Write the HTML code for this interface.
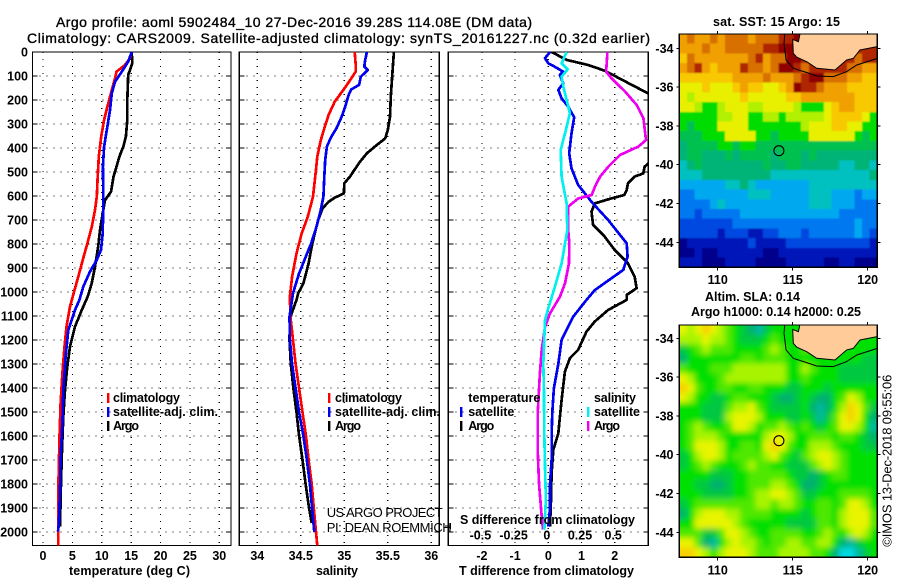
<!DOCTYPE html>
<html lang="en">
<head>
<meta charset="utf-8">
<title>Argo profile 5902484_10</title>
<style>
html,body{margin:0;padding:0;background:#fff;}
svg{display:block;}
text{font-family:"Liberation Sans",sans-serif;fill:#000;}
.b{font-size:12.5px;font-weight:bold;}
.t{font-size:14px;stroke:#000;stroke-width:.35px;}
.r{font-size:13px;}
</style>
</head>
<body>
<svg id="chart" xmlns="http://www.w3.org/2000/svg" width="900" height="580" viewBox="0 0 900 580">
  <rect x="0" y="0" width="900" height="580" fill="#fff"/>
  <defs>
    <clipPath id="clipA"><rect x="32.5" y="52" width="198.5" height="493.6"/></clipPath>
    <clipPath id="clipB"><rect x="239.3" y="52" width="200" height="493.6"/></clipPath>
    <clipPath id="clipC"><rect x="448.3" y="52" width="200" height="493.6"/></clipPath>
    <clipPath id="clipM1"><rect x="679.3" y="34" width="198" height="233.3"/></clipPath>
    <clipPath id="clipM2"><rect x="679.3" y="325" width="198" height="232.3"/></clipPath>
    <filter id="softSst" x="-10%" y="-10%" width="120%" height="120%"><feGaussianBlur stdDeviation="0.8"/></filter>
    <filter id="softSla" x="-10%" y="-10%" width="120%" height="120%"><feGaussianBlur stdDeviation="3"/></filter>
  </defs>

  <text class="t" x="56" y="27" textLength="476" lengthAdjust="spacing">Argo profile: aoml 5902484_10 27-Dec-2016 39.28S 114.08E (DM data)</text>
  <text class="t" x="27" y="43" textLength="623" lengthAdjust="spacing">Climatology: CARS2009. Satellite-adjusted climatology: synTS_20161227.nc (0.32d earlier)</text>

  <g id="layer-maps"></g>
  <g id="layer-panels"></g>

  <text class="b" x="69" y="575" textLength="121" lengthAdjust="spacing">temperature (deg C)</text>
  <text class="b" x="316" y="575" textLength="42" lengthAdjust="spacing">salinity</text>
  <text class="b" x="459" y="575" textLength="175" lengthAdjust="spacing">T difference from climatology</text>
  <text class="b" x="460" y="524" textLength="175" lengthAdjust="spacing">S difference from climatology</text>

  <g>
    <rect x="107" y="393" width="2.4" height="10" fill="#f00"/>
    <text class="b" x="113" y="402" textLength="67" lengthAdjust="spacing">climatology</text>
    <rect x="107" y="407" width="2.4" height="10" fill="#0000f0"/>
    <text class="b" x="113" y="416" textLength="105" lengthAdjust="spacing">satellite-adj. clim.</text>
    <rect x="107" y="421" width="2.4" height="10" fill="#000"/>
    <text class="b" x="113" y="430" textLength="26" lengthAdjust="spacing">Argo</text>
  </g>
  <g>
    <rect x="328" y="393" width="2.4" height="10" fill="#f00"/>
    <text class="b" x="335" y="402" textLength="67" lengthAdjust="spacing">climatology</text>
    <rect x="328" y="407" width="2.4" height="10" fill="#0000f0"/>
    <text class="b" x="335" y="416" textLength="105" lengthAdjust="spacing">satellite-adj. clim.</text>
    <rect x="328" y="421" width="2.4" height="10" fill="#000"/>
    <text class="b" x="335" y="430" textLength="26" lengthAdjust="spacing">Argo</text>
  </g>
  <g>
    <text class="b" x="468.3" y="402" textLength="72" lengthAdjust="spacing">temperature</text>
    <rect x="460" y="407" width="2.4" height="10" fill="#0000f0"/>
    <text class="b" x="468.3" y="416" textLength="46" lengthAdjust="spacing">satellite</text>
    <rect x="460" y="421" width="2.4" height="10" fill="#000"/>
    <text class="b" x="468.3" y="430" textLength="26" lengthAdjust="spacing">Argo</text>
    <text class="b" x="594" y="402" textLength="42" lengthAdjust="spacing">salinity</text>
    <rect x="587" y="407" width="2.4" height="10" fill="#00f0f0"/>
    <text class="b" x="594" y="416" textLength="46" lengthAdjust="spacing">satellite</text>
    <rect x="587" y="421" width="2.4" height="10" fill="#f000f0"/>
    <text class="b" x="594" y="430" textLength="26" lengthAdjust="spacing">Argo</text>
  </g>
  <path d="M445 526H451M450.5 523V529" stroke="#000" stroke-width="1" fill="none" shape-rendering="crispEdges"/>

  <text class="r" x="326.7" y="517" textLength="116" lengthAdjust="spacing">US ARGO PROJECT</text>
  <text class="r" x="326.7" y="532" textLength="125" lengthAdjust="spacing">PI: DEAN ROEMMICH</text>

  <text class="b" x="713" y="26" textLength="127" lengthAdjust="spacing">sat. SST: 15 Argo: 15</text>
  <text class="b" x="705" y="301" textLength="95" lengthAdjust="spacing">Altim. SLA: 0.14</text>
  <text class="b" x="691" y="316" textLength="170" lengthAdjust="spacing">Argo h1000: 0.14 h2000: 0.25</text>
  <text class="r" transform="translate(891.5,546.7) rotate(-90)" x="0" y="0" textLength="172" lengthAdjust="spacing">©IMOS 13-Dec-2018 09:55:06</text>
</svg>

<script>
/* ---------- axis tick values ---------- */
const depthTicks = [0,100,200,300,400,500,600,700,800,900,1000,1100,1200,1300,1400,1500,1600,1700,1800,1900,2000];
const tempTicks = [0,5,10,15,20,25,30];
const salTicks = [34,34.5,35,35.5,36];
const tDiffTicks = [-2,-1,0,1,2];
const sDiffTicks = [-0.5,-0.25,0,0.25,0.5];
const lonTicks = [110,115,120];
const latTicks = [-34,-36,-38,-40,-42,-44];

/* ---------- temperature profiles (deg C) ---------- */
const tClimDepth = [0,26,54,82,110,158,228,283,353,436,519,603,658,728,797,867,936,1006,1061,1144,1228,1339,1464,1603,1769,1894,2056];
const tClimValue = [15.1,14.8,13.95,12.5,12.25,11.7,10.95,10.4,9.9,9.5,9.3,9.15,8.85,8.3,7.55,6.75,6.0,5.2,4.6,4.0,3.65,3.3,3.0,2.8,2.65,2.6,2.6];
const tSatDepth = [0,40,82,124,172,242,325,394,478,617,756,825,867,915,978,1033,1075,1158,1269,1408,1547,1686,1825,1964,1998];
const tSatValue = [15.1,14.5,13.4,12.25,11.7,11.4,10.85,10.4,10.2,10.27,10.15,9.87,9.13,8.0,6.86,6.2,5.45,4.3,3.85,3.46,3.3,3.0,2.9,2.7,2.55];
const tArgoDepth = [0,47,96,200,283,353,394,436,478,519,582,617,672,742,811,894,964,1019,1075,1144,1228,1311,1408,1519,1658,1797,1978];
const tArgoValue = [15.1,15.2,14.5,14.35,14.35,14.1,13.67,13.0,12.5,12.0,11.57,10.55,10.15,9.7,9.4,8.85,8.28,7.6,6.6,5.45,4.6,4.14,3.74,3.46,3.23,3.06,2.9];

/* ---------- salinity profiles ---------- */
const sClimDepth = [0,47,82,110,158,207,262,318,367,436,506,603,686,756,839,936,1019,1103,1200,1300,1401,1501,1600,1700,1800,1901,2001,2056];
const sClimValue = [35.12,35.13,35.13,35.08,34.99,34.89,34.82,34.77,34.73,34.69,34.67,34.64,34.58,34.51,34.45,34.40,34.375,34.38,34.41,34.44,34.48,34.52,34.56,34.59,34.625,34.65,34.675,34.69];
const sSatDepth = [0,33,61,75,103,137,156,179,228,269,318,353,394,450,519,603,658,728,797,860,922,1005,1103,1200,1300,1401,1501,1600,1700,1800,1901,2001];
const sSatValue = [35.26,35.24,35.23,35.27,35.19,35.17,35.08,35.05,35.01,34.97,34.91,34.85,34.80,34.78,34.77,34.76,34.73,34.68,34.62,34.55,34.48,34.41,34.37,34.375,34.40,34.44,34.48,34.53,34.57,34.605,34.63,34.655];
const sArgoDepth = [0,75,186,269,325,360,394,422,457,492,519,547,589,607,624,651,700,756,811,881,964,1005,1033,1089,1117,1200,1300,1401,1501,1600,1700,1800,1901,1963];
const sArgoValue = [35.57,35.555,35.535,35.525,35.50,35.47,35.35,35.26,35.18,35.115,35.065,35.0,34.995,34.89,34.82,34.75,34.70,34.66,34.625,34.59,34.53,34.47,34.45,34.395,34.375,34.37,34.385,34.415,34.45,34.48,34.52,34.555,34.595,34.625];

/* ---------- differences from climatology ---------- */
const dtSatDepth = [0,26,47,58,82,96,131,158,193,228,272,339,422,485,554,624,700,797,853,908,943,992,1033,1103,1200,1300,1401,1501,1600,1700,1800,1901,1978];
const dtSatValue = [0.05,-0.1,0,0.15,0.45,0.35,0.45,0.3,0.4,0.6,0.78,0.7,0.63,0.7,0.9,1.3,1.8,2.36,2.39,2.26,1.9,1.4,1.15,0.75,0.4,0.3,0.17,0.12,0.1,0.1,0.05,0.05,0];
const dtArgoDepth = [0,33,54,78,172,300,420,478,506,519,547,575,596,610,631,665,721,769,825,881,936,984,1012,1033,1075,1123,1165,1241,1276,1332,1450,1589,1658,1755,1866,1978];
const dtArgoValue = [0.1,0.55,1.2,1.7,3.0,3.9,3.4,2.9,2.86,2.6,2.4,2.36,2.29,1.9,1.4,1.3,1.35,1.7,2.0,2.4,2.6,2.66,2.36,2.36,1.8,1.4,1.15,0.9,0.65,0.5,0.4,0.3,0.15,0.1,0.08,0.05];
const dsSatDepth = [0,47,72,103,144,256,339,408,519,631,742,881,978,1068,1117,1300,1401,1589,1728,1866,1991];
const dsSatValue = [0.138,0.10,0.146,0.10,0.113,0.163,0.126,0.093,0.10,0.138,0.143,0.10,0.05,0,-0.025,-0.038,-0.033,-0.03,-0.025,-0.018,-0.03];
const dsArgoDepth = [0,47,82,110,165,221,276,367,394,429,478,519,561,596,610,644,742,797,881,964,1019,1089,1145,1241,1339,1506,1658,1797,1936,1990];
const dsArgoValue = [0.445,0.44,0.435,0.477,0.578,0.666,0.716,0.736,0.678,0.54,0.452,0.39,0.352,0.327,0.226,0.15,0.15,0.158,0.156,0.126,0.088,0.0126,-0.025,-0.05,-0.063,-0.08,-0.08,-0.07,-0.05,-0.04];

/* ---------- map data: colour-level rows, north to south ---------- */
const sstLevels = ["#00008c","#0018b8","#0048e0","#0078f0","#00a8f0","#00c0c0","#00b478","#00c050","#00dc00","#b0f000","#e8f000","#f8c800","#f0a000","#d87000","#b02800","#900000"];
const sstRows = [
"cdccdcdddcdddeefdeeeeeeeee",
"cccdccdddddeeffeeeeeeeeeee",
"bdcccccccdecddffeeeeeeedee",
"cdecbccceddcdffedeeeeeddcc",
"bbbbbbbccccdcccdeffdddccbb",
"aaabaaabcbbaabcfeedcccbbbb",
"a9aaaaaabaaaaabbcccccccbbb",
"aa9889aaa99aaaa9888abccbbb",
"8888899aa8899899999abbbba8",
"87888aaaa88888889aaabbaa88",
"777888aaaa8878888aaaaaa878",
"67777887887777777777777777",
"67766676777767776766666666",
"56766666666766776666655665",
"55566666666655555555555556",
"44444455654444444555555555",
"33444444455544444555444344",
"33334544444444444555444333",
"33233333444444444444433333",
"22222223333333333333333433",
"22222122211223332333333432",
"01111111121111222222222221",
"00100111111001111111111111",
"11100011110000111110011000"
];
const slaLevels = ["#00d8e0","#00b8a0","#00b070","#00c840","#00e000","#50e800","#a8f400","#e8f400","#f8d000","#f8a000"];
const slaRows = [
"76787654321344444444444444",
"66676654333454444444444444",
"34565554444565445444444444",
"24444444554555444444444433",
"54445556666666446544433333",
"76444566666666445444433333",
"87544554455444334443444444",
"76443345544432234322457644",
"44433356675433334212468753",
"44433367776444334313578742",
"45654457764556545434577641",
"45666544444677644555455432",
"45777644554787544666544433",
"34677645555675435677654444",
"34565444565544333567654444",
"44443334455555433234554444",
"44332234455566542234444444",
"44433334456677653344455554",
"34555555556656654455457764",
"24677766555544443455467775",
"44777776544444333355467775",
"55533577654455554456546764",
"77521467665455665566421344",
"88764677765556666554200134"
];
const coastLon = [115.49,115.38,115.0,115.04,115.27,115.93,116.6,117.82,118.6,119.04,119.49,120.64,120.64];
const coastLat = [-33.26,-33.66,-33.54,-34.26,-34.46,-34.69,-35.03,-35.12,-34.6,-34.52,-34.09,-33.91,-33.26];
const shelfLon = [114.47,114.42,114.56,115.04,115.93,116.6,117.71,118.6,119.27,120.64];
const shelfLat = [-33.26,-33.74,-34.6,-35.03,-35.25,-35.43,-35.46,-35.2,-34.86,-34.52];
const floatLon = [114.08];
const floatLat = [-39.28];

/* ---------- axis functions ---------- */
const depthY = d => 52 + 0.24 * d;
const tempX = v => 43 + 5.877 * v;
const salX = v => 257.3 + 87 * (v - 34);
const tDiffX = v => 548.3 + 33.2 * v;
const sDiffX = v => 548.3 + 132.8 * v;
const lonX = v => 717.7 + 15 * (v - 110);

const NS = "http://www.w3.org/2000/svg";
function mk(tag, attrs, parent) {
  const e = document.createElementNS(NS, tag);
  for (const k in attrs) e.setAttribute(k, attrs[k]);
  parent.appendChild(e);
  return e;
}

function drawFrame(parent, x0, x1, y0, y1) {
  const f = mk('rect', {x:x0, y:y0, width:x1-x0, height:y1-y0, fill:'none', stroke:'#000', 'stroke-width':1.2, 'shape-rendering':'crispEdges'}, parent);
  
  
}

function drawPanel(x0, x1, xTicks, xFn, showDepthLabels) {
  const g = mk('g', {}, document.getElementById('layer-panels'));
  
  
  const top = 52, bottom = 545.6;
  xTicks.forEach(v => {
    const x = xFn(v);
    const grid = mk('line', {x1:x, x2:x, y1:top, y2:bottom, stroke:'#000', 'stroke-width':1.2, 'stroke-dasharray':'1.2 5.8', 'shape-rendering':'crispEdges'}, g);
    
    
    const lab = mk('text', {x:x, y:560.2, 'text-anchor':'middle', class:'b'}, g);
    
    
    lab.textContent = String(v);
  });
  depthTicks.forEach(d => {
    const y = depthY(d);
    const grid = mk('line', {x1:x0, x2:x1, y1:y, y2:y, stroke:'#000', 'stroke-width':1.2, 'stroke-dasharray':'1.2 5.8', 'shape-rendering':'crispEdges'}, g);
    
    
    const tl = mk('line', {x1:x0, x2:x0+5, y1:y, y2:y, stroke:'#000', 'stroke-width':1, 'shape-rendering':'crispEdges'}, g);
    
    
    const tr = mk('line', {x1:x1-5, x2:x1, y1:y, y2:y, stroke:'#000', 'stroke-width':1, 'shape-rendering':'crispEdges'}, g);
    
    
    if (showDepthLabels) {
      const lab = mk('text', {x:28, y:y+4.5, 'text-anchor':'end', class:'b'}, g);
      
      
      lab.textContent = String(d);
    }
  });
  drawFrame(g, x0, x1, top, bottom);
  return g;
}

function drawProfile(parent, clip, xFn, depths, values, color) {
  const pts = depths.map((d, i) => xFn(values[i]).toFixed(1) + ',' + depthY(d).toFixed(1)).join(' ');
  return mk('polyline', {points:pts, fill:'none', stroke:color, 'stroke-width':2.7, 'stroke-linejoin':'round', 'shape-rendering':'crispEdges', 'clip-path':'url(#' + clip + ')'}, parent);
}

/* temperature panel */
const panelA = drawPanel(32.5, 231, tempTicks, tempX, true);
const lineA3 = drawProfile(panelA, 'clipA', tempX, tArgoDepth, tArgoValue, '#000');


const lineA1 = drawProfile(panelA, 'clipA', tempX, tClimDepth, tClimValue, '#f00');


const lineA2 = drawProfile(panelA, 'clipA', tempX, tSatDepth, tSatValue, '#0000f0');



/* salinity panel */
const panelB = drawPanel(239.3, 439.3, salTicks, salX, false);
const lineB3 = drawProfile(panelB, 'clipB', salX, sArgoDepth, sArgoValue, '#000');


const lineB1 = drawProfile(panelB, 'clipB', salX, sClimDepth, sClimValue, '#f00');


const lineB2 = drawProfile(panelB, 'clipB', salX, sSatDepth, sSatValue, '#0000f0');



/* difference panel */
const panelC = drawPanel(448.3, 648.3, tDiffTicks, tDiffX, false);
const lineC2 = drawProfile(panelC, 'clipC', tDiffX, dtArgoDepth, dtArgoValue, '#000');


const lineC1 = drawProfile(panelC, 'clipC', tDiffX, dtSatDepth, dtSatValue, '#0000f0');


const lineC4 = drawProfile(panelC, 'clipC', sDiffX, dsArgoDepth, dsArgoValue, '#f000f0');


const lineC3 = drawProfile(panelC, 'clipC', sDiffX, dsSatDepth, dsSatValue, '#00f0f0');


sDiffTicks.forEach(v => {
  const lab = mk('text', {x:sDiffX(v)-1.5, y:539.5, 'text-anchor':'middle', class:'b'}, panelC);
  
  
  lab.textContent = String(v);
});

/* maps */
function drawMap(rows, levels, top, bottom, latZero, clip, labelY, softFilter) {
  const g = mk('g', {}, document.getElementById('layer-maps'));
  
  
  const left = 679.3, right = 877.3;
  const latY = v => latZero + 19.4 * (-34 - v);
  const cw = (right - left) / rows[0].length;
  const ch = (bottom - top) / rows.length;
  const clipped = mk('g', {'clip-path':'url(#' + clip + ')'}, g);
  
  
  const field = mk('g', {filter:'url(#' + softFilter + ')'}, clipped);
  
  
  const bleed = 14;
  rows.forEach((row, r) => {
    row.split('').forEach((c, i) => {
      const xa = left + i * cw - (i === 0 ? bleed : 0);
      const xb = left + (i + 1) * cw + (i === row.length - 1 ? bleed : 0.6);
      const ya = top + r * ch - (r === 0 ? bleed : 0);
      const yb = top + (r + 1) * ch + (r === rows.length - 1 ? bleed : 0.6);
      const cell = mk('rect', {x:xa.toFixed(2), y:ya.toFixed(2), width:(xb - xa).toFixed(2), height:(yb - ya).toFixed(2), fill:levels[parseInt(c, 16)], 'shape-rendering':'crispEdges'}, field);
      
      
    });
  });
  const land = mk('polygon', {points:coastLon.map((v, i) => lonX(v).toFixed(1) + ',' + latY(coastLat[i]).toFixed(1)).join(' '), fill:'#ffcc99', stroke:'#000', 'stroke-width':1, 'clip-path':'url(#' + clip + ')'}, g);
  
  
  const shelf = mk('polyline', {points:shelfLon.map((v, i) => lonX(v).toFixed(1) + ',' + latY(shelfLat[i]).toFixed(1)).join(' '), fill:'none', stroke:'#000', 'stroke-width':1, 'clip-path':'url(#' + clip + ')'}, g);
  
  
  floatLon.forEach((v, i) => {
    const m = mk('circle', {cx:lonX(v), cy:latY(floatLat[i]), r:5, fill:'none', stroke:'#000', 'stroke-width':1.1}, g);
    
    
  });
  lonTicks.forEach(v => {
    const x = lonX(v);
    const t = mk('path', {d:'M' + x + ' ' + (top-3) + 'V' + top + 'M' + x + ' ' + bottom + 'V' + (bottom+3), stroke:'#000', 'stroke-width':1, 'shape-rendering':'crispEdges', fill:'none'}, g);
    
    
    const lab = mk('text', {x:x, y:labelY, 'text-anchor':'middle', class:'b'}, g);
    
    
    lab.textContent = String(v);
  });
  latTicks.forEach(v => {
    const y = latY(v);
    const t = mk('path', {d:'M' + (left-3) + ' ' + y + 'H' + left + 'M' + right + ' ' + y + 'H' + (right+3), stroke:'#000', 'stroke-width':1, 'shape-rendering':'crispEdges', fill:'none'}, g);
    
    
    const lab = mk('text', {x:673.5, y:y+4.5, 'text-anchor':'end', class:'b'}, g);
    
    
    lab.textContent = String(v);
  });
  drawFrame(g, left, right, top, bottom);
}
drawMap(sstRows, sstLevels, 34, 267.3, 48.3, 'clipM1', 284, 'softSst');
drawMap(slaRows, slaLevels, 325, 557.3, 338.3, 'clipM2', 574.5, 'softSla');
</script>
</body>
</html>
